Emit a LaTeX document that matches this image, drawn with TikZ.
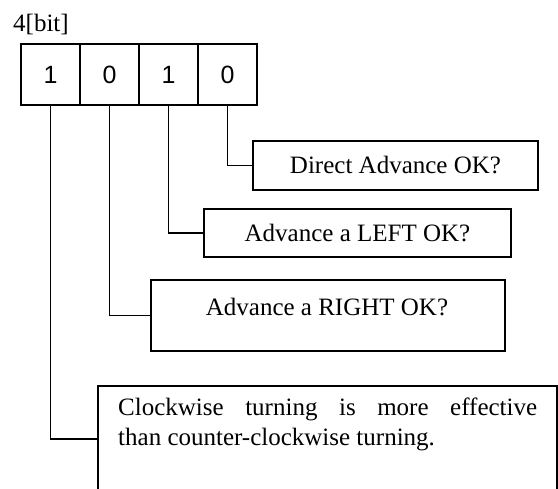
\documentclass[tikz,border=0pt]{standalone}
\usepackage{fontspec}
\setmainfont{Liberation Serif}
\newfontfamily\digitfont{Liberation Sans}
\begin{document}
\begin{tikzpicture}[x=1pt,y=-1pt,
  cell/.style={draw,line width=1.2pt,minimum width=59pt,minimum height=61pt,inner sep=0pt,font=\digitfont\fontsize{25}{30}\selectfont},
  qbox/.style={draw,line width=1.2pt,inner sep=0pt,font=\fontsize{25}{30}\selectfont},
  txt/.style={inner sep=0pt,font=\fontsize{25}{30}\selectfont},
  link/.style={line width=1.2pt}]
\useasboundingbox (0,0) rectangle (558,489);
\clip (0,0) rectangle (558,489);
\fill[white] (0,0) rectangle (558,489);
\node[txt,anchor=west] (title) at (13,25) {4[bit]};
\node[cell] (c1) at (50.5,74.5) {1};
\node[cell] (c2) at (109.5,74.5) {0};
\node[cell] (c3) at (168.5,74.5) {1};
\node[cell] (c4) at (227.5,74.5) {0};
\node[qbox,minimum width=285pt,minimum height=49pt] (b1) at (395.5,165.5) {Direct Advance OK?};
\node[qbox,minimum width=307pt,minimum height=48pt] (b2) at (357.5,233) {Advance a LEFT OK?};
\node[qbox,minimum width=354pt,minimum height=71pt] (b3) at (328,315.5) {};
\node[txt] (t3) at (327,307) {Advance a RIGHT OK?};
\node[qbox,minimum width=459pt,minimum height=106pt] (b4) at (327.5,439) {};
\node[txt,anchor=north west,text width=419pt,align=justify] (t4) at (118,398)
  {Clockwise turning is more effective\linebreak than counter-clockwise turning.};
\draw[link] (c4.south) |- (b1.west);
\draw[link] (c3.south) |- (b2.west);
\draw[link] (c2.south) |- (b3.west);
\draw[link] (c1.south) |- (b4.west);
\end{tikzpicture}
\end{document}
